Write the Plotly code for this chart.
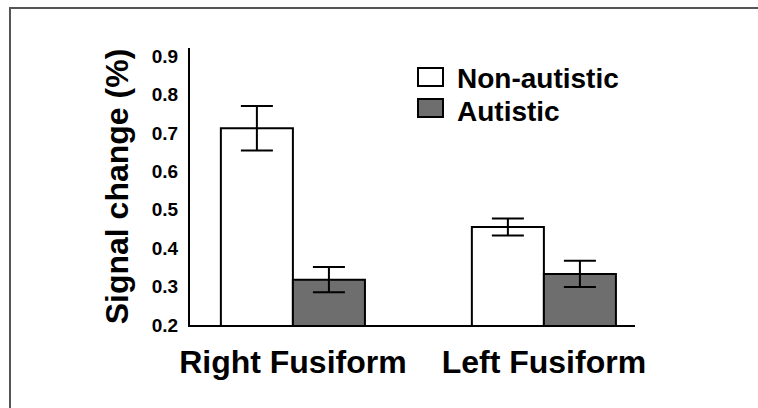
import plotly.graph_objects as go

categories = ["Right Fusiform", "Left Fusiform"]
groups = ["Non-autistic", "Autistic"]
non_autistic = [0.712, 0.455]
non_autistic_err = [0.058, 0.022]
autistic = [0.318, 0.333]
autistic_err = [0.033, 0.034]
y_ticks = [0.2, 0.3, 0.4, 0.5, 0.6, 0.7, 0.8, 0.9]

FONT = "Liberation Sans, Arial, sans-serif"

fig = go.Figure()
fig.add_trace(go.Bar(
    name=groups[0], x=categories, y=non_autistic,
    marker=dict(color="white", line=dict(color="black", width=2)),
    error_y=dict(type="data", array=non_autistic_err, color="black", thickness=2, width=16),
    showlegend=False,
))
fig.add_trace(go.Bar(
    name=groups[1], x=categories, y=autistic,
    marker=dict(color="#6e6e6e", line=dict(color="black", width=2)),
    error_y=dict(type="data", array=autistic_err, color="black", thickness=2, width=16),
    showlegend=False,
))

L, R, T, B = 190, 123, 48, 83
W, H = 758, 408
pw, ph = W - L - R, H - T - B

def px(x):
    return (x - L) / pw

def py(y):
    return (H - B - y) / ph

shapes = [
    dict(type="rect", xref="paper", yref="paper", x0=px(10), x1=px(780), y0=py(8), y1=py(430),
         line=dict(color="#555555", width=2), fillcolor="rgba(0,0,0,0)", layer="below"),
    dict(type="rect", xref="paper", yref="paper", x0=px(418), x1=px(443), y0=py(86), y1=py(68),
         line=dict(color="black", width=2), fillcolor="white"),
    dict(type="rect", xref="paper", yref="paper", x0=px(418), x1=px(443), y0=py(117), y1=py(99),
         line=dict(color="black", width=2), fillcolor="#6e6e6e"),
]
annotations = [
    dict(xref="paper", yref="paper", x=px(456), y=py(78), text="<b>" + groups[0] + "</b>",
         showarrow=False, xanchor="left", yanchor="middle", borderpad=0,
         font=dict(family=FONT, size=28, color="black")),
    dict(xref="paper", yref="paper", x=px(456), y=py(111), text="<b>" + groups[1] + "</b>",
         showarrow=False, xanchor="left", yanchor="middle", borderpad=0,
         font=dict(family=FONT, size=28, color="black")),
]

fig.update_layout(
    width=W, height=H,
    margin=dict(l=L, r=R, t=T, b=B),
    paper_bgcolor="white", plot_bgcolor="white",
    barmode="group", bargap=0.426, bargroupgap=0,
    shapes=shapes, annotations=annotations,
    font=dict(family=FONT, color="black"),
)
fig.update_xaxes(
    range=[-0.41, 1.363], showline=True, linecolor="black", linewidth=2,
    showgrid=False, zeroline=False, ticks="",
    tickfont=dict(family=FONT, size=32, color="black", weight="bold"),
    ticklabelstandoff=8,
)
fig.update_yaxes(
    range=[0.2, 0.921], tickvals=y_ticks, ticktext=["%.1f" % v for v in y_ticks],
    showline=True, linecolor="black", linewidth=2,
    showgrid=False, zeroline=False, ticks="",
    tickfont=dict(family=FONT, size=19, color="black", weight="bold"),
    ticklabelstandoff=6,
    title=dict(text="<b>Signal change (%)</b>", font=dict(family=FONT, size=32, color="black"), standoff=14),
)

fig.write_html("out.html", config={"displayModeBar": False},
               post_script="document.body.style.margin='0';document.body.style.overflow='hidden';")
